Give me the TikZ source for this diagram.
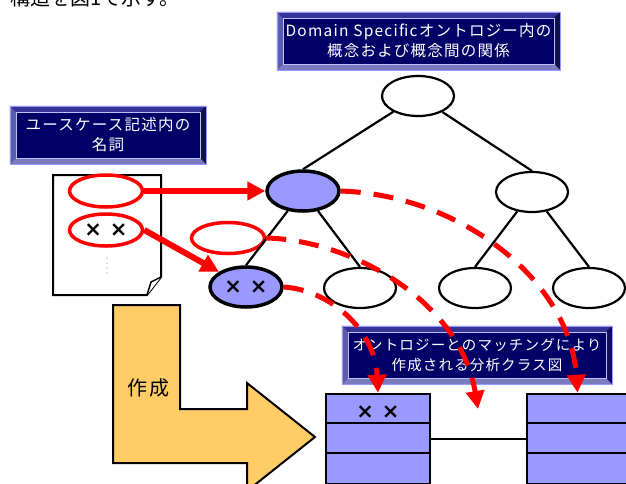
\documentclass[tikz,border=0pt]{standalone}
\usepackage{fontspec}
\setmainfont{Noto Sans CJK JP}
\newfontfamily\crossfont{DejaVu Sans}
\usetikzlibrary{shapes.geometric,arrows.meta}
\definecolor{navy}{HTML}{000066}
\definecolor{bvtopc}{HTML}{333399}
\definecolor{bvleftc}{HTML}{5C5CAD}
\definecolor{bvrightc}{HTML}{10104A}
\definecolor{bvbotc}{HTML}{7A7ABF}
\definecolor{lilac}{HTML}{9999FF}
\definecolor{orange1}{HTML}{FFCC66}
\definecolor{red1}{HTML}{FF0000}
\tikzset{
  titlebox/.style={rectangle, fill=navy, inner sep=0, text=white, align=center,
    font=\fontsize{15.5}{20}\selectfont\addfontfeatures{LetterSpace=8}},
  onto/.style={ellipse, draw=black, line width=2.2pt, fill=white, minimum width=72pt, minimum height=40pt, inner sep=0},
  ontohit/.style={onto, line width=3.5pt, fill=lilac},
  redell/.style={ellipse, draw=red1, line width=3.5pt, minimum width=73pt, minimum height=32pt, inner sep=0},
  edge/.style={line width=2.2pt, draw=black},
  redarrow/.style={draw=red1, line width=6pt, -{Triangle[width=18pt,length=18pt]}},
  dasharrow/.style={draw=red1, line width=5pt, dash pattern=on 20pt off 13pt, -{Triangle[width=18pt,length=18pt]}},
  classbox/.style={rectangle, draw=black, line width=2.5pt, fill=lilac, inner sep=0},
  crosses/.style={font=\crossfont\bfseries\fontsize{21}{21}\selectfont, inner sep=0},
}
\newcommand\bevelframe[1]{%
  \fill[bvtopc] (#1.north west) -- (#1.north east) -- ([shift={(-6,6)}]#1.north east) -- ([shift={(6,6)}]#1.north west) -- cycle;
  \fill[bvleftc] (#1.north west) -- ([shift={(6,6)}]#1.north west) -- ([shift={(6,-6)}]#1.south west) -- (#1.south west) -- cycle;
  \fill[bvrightc] (#1.north east) -- ([shift={(-6,6)}]#1.north east) -- ([shift={(-6,-6)}]#1.south east) -- (#1.south east) -- cycle;
  \fill[bvbotc] (#1.south west) -- ([shift={(6,-6)}]#1.south west) -- ([shift={(-6,-6)}]#1.south east) -- (#1.south east) -- cycle;
  \draw[white!75!blue, line width=0.6pt] ([shift={(6,6)}]#1.north west) rectangle ([shift={(-6,-6)}]#1.south east);
  \draw[white!60!blue, line width=0.6pt] (#1.north west) rectangle (#1.south east);
}
\begin{document}
\begin{tikzpicture}[x=1pt,y=-1pt]
\useasboundingbox (0,0) rectangle (626,483);
\fill[white] (0,0) rectangle (626,483);

% cut-off sentence at the top
\node[anchor=base west, inner sep=0, font=\fontsize{20}{20}\selectfont] (top) at (10,5) {構造を図1で示す。};

% title boxes
\node[titlebox, minimum width=283pt, minimum height=58pt] (t1) at (418.5,41) {};
\bevelframe{t1}
\node[titlebox] (t1txt) at (418.5,41) {Domain Specificオントロジー内の\\概念および概念間の関係};

\node[titlebox, minimum width=196pt, minimum height=58pt] (t2) at (108,135) {};
\bevelframe{t2}
\node[titlebox] (t2txt) at (108,135) {ユースケース記述内の\\名詞};

% document
\draw[line width=2pt, fill=white] (53,175) -- (161,175) -- (161,277) -- (147,295) -- (53,295) -- cycle;
\draw[line width=1.5pt, fill=white, line join=round] (161,277) -- (151,282) -- (147,295);
\foreach \yy in {258,263,268,273} \fill[gray] (107,\yy) circle (0.7pt);

% red ellipses
\node[redell] (e1) at (106,191) {};
\node[redell, crosses] (e2) at (106,230) {×\hspace{8pt}×};
\node[redell, minimum height=31pt] (f) at (228,238) {};

% ontology tree
\node[onto] (root) at (418,96) {};
\node[ontohit] (A) at (303,191) {};
\node[onto] (B) at (532,192) {};
\node[ontohit, crosses] (A1) at (246,287) {×\hspace{8pt}×};
\node[onto] (A2) at (360,288) {};
\node[onto] (B1) at (475,288) {};
\node[onto] (B2) at (589,288) {};
\draw[edge] (root) -- (A.north);
\draw[edge] (root) -- (B.north);
\draw[edge] (A) -- (A1.north);
\draw[edge] (A) -- (A2.north);
\draw[edge] (B) -- (B1.north);
\draw[edge] (B) -- (B2.north);

% solid red arrows
\draw[redarrow] (e1.east) -- (A.west);
\draw[redarrow] (e2.east) -- (A1);

% L shaped arrow
\draw[line width=2pt, fill=orange1, line join=miter] (113,305) -- (180,305) -- (180,409) -- (247,409) -- (247,383) -- (315,437) -- (247,491) -- (247,463) -- (113,463) -- cycle;
\node[inner sep=0, font=\fontsize{20}{20}\selectfont\addfontfeatures{LetterSpace=10}] (mk) at (148,388) {作成};

% class boxes
\node[classbox, minimum width=104pt, minimum height=90pt] (c1) at (378,439) {};
\draw[line width=2.5pt] ([yshift=-30pt]c1.north west) -- ([yshift=-30pt]c1.north east);
\draw[line width=2.5pt] ([yshift=-60pt]c1.north west) -- ([yshift=-60pt]c1.north east);
\node[crosses] (c1x) at (378,412) {×\hspace{8pt}×};
\node[classbox, minimum width=101pt, minimum height=90pt] (c2) at (577.5,439) {};
\draw[line width=2.5pt] ([yshift=-30pt]c2.north west) -- ([yshift=-30pt]c2.north east);
\draw[line width=2.5pt] ([yshift=-60pt]c2.north west) -- ([yshift=-60pt]c2.north east);
\draw[line width=2pt] (c1.east) -- (c2.west);

% title box 3
\node[titlebox, minimum width=270pt, minimum height=58pt] (t3) at (477,355) {};
\bevelframe{t3}
\node[titlebox, font=\fontsize{14.5}{20}\selectfont\addfontfeatures{LetterSpace=8}] (t3txt) at (477,355) {オントロジーとのマッチングにより\\作成される分析クラス図};

% dashed matching arrows
\coordinate (t2end) at (478,409);
\draw[dasharrow] (A.east) .. controls (460,195) and (570,280) .. (c2.north);
\draw[dasharrow] (f.east) .. controls (350,240) and (460,300) .. (t2end);
\draw[dasharrow] (A1.east) .. controls (330,290) and (375,330) .. (c1.north);
\end{tikzpicture}
\end{document}
